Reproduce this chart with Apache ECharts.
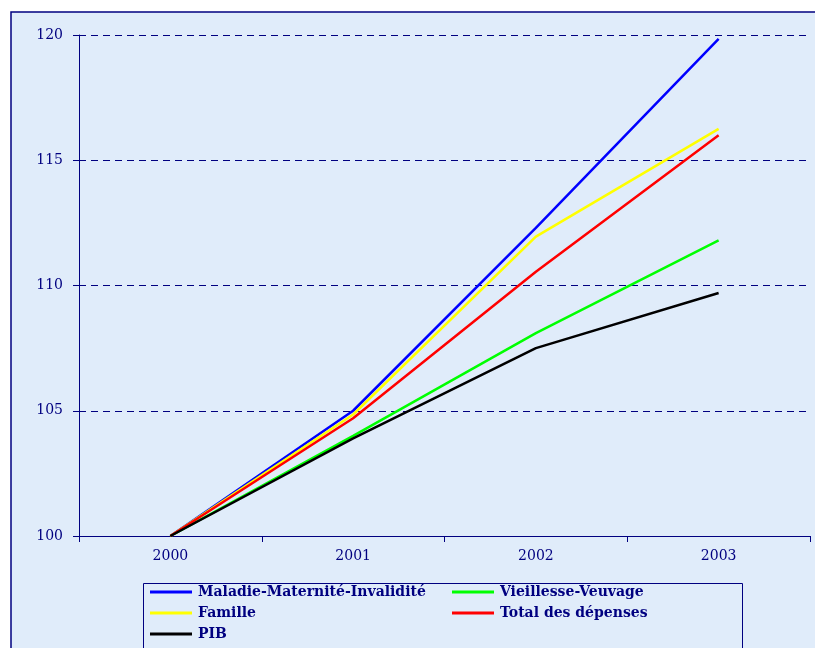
<!DOCTYPE html>
<html>
<head>
<meta charset="utf-8">
<script src="https://cdn.jsdelivr.net/npm/echarts@6/dist/echarts.min.js"></script>
<style>
  html, body { margin: 0; padding: 0; background: #ffffff; }
  #chart { width: 815px; height: 648px; }
</style>
</head>
<body>
<div id="chart"></div>
<script>
// Index of expenditure growth, base 100 in 2000
const years = ['2000', '2001', '2002', '2003'];
const yTicks = [100, 105, 110, 115, 120];

const seriesNames = [
  'Maladie-Maternité-Invalidité',
  'Vieillesse-Veuvage',
  'Famille',
  'Total des dépenses',
  'PIB'
];
const maladie    = [100, 105.0, 112.3, 119.85];
const vieillesse = [100, 104.0, 108.1, 111.8];
const famille    = [100, 104.85, 111.95, 116.25];
const total      = [100, 104.7, 110.55, 116.0];
const pib        = [100, 103.9, 107.5, 109.7];

const values = [maladie, vieillesse, famille, total, pib];
const colors = ['#0000ff', '#00ff00', '#ffff00', '#ff0000', '#000000'];

const navy = '#000080';
const font = '"DejaVu Serif", "Liberation Serif", serif';

const chart = echarts.init(document.getElementById('chart'), null, { renderer: 'canvas' });

const legendCommon = {
  orient: 'vertical',
  top: 585,
  itemGap: 7,
  itemWidth: 42,
  itemHeight: 3,
  icon: 'rect',
  padding: 0,
  textStyle: { fontFamily: font, fontSize: 14, fontWeight: 'bold', color: navy, padding: [0, 0, 0, 1] },
  selectedMode: false
};

chart.setOption({
  animation: false,
  backgroundColor: '#ffffff',
  graphic: [
    {
      type: 'rect',
      z: -10,
      shape: { x: 11, y: 12, width: 840, height: 680 },
      style: { fill: '#e0ecfa', stroke: navy, lineWidth: 1.5 }
    },
    {
      type: 'rect',
      z: -5,
      shape: { x: 143.5, y: 583.5, width: 599, height: 90 },
      style: { fill: 'none', stroke: navy, lineWidth: 1 }
    }
  ],
  grid: { left: 79, top: 35, right: 5, bottom: 112, containLabel: false },
  legend: [
    Object.assign({ left: 150, data: [seriesNames[0], seriesNames[2], seriesNames[4]] }, legendCommon),
    Object.assign({ left: 452, data: [seriesNames[1], seriesNames[3]] }, legendCommon)
  ],
  xAxis: {
    type: 'category',
    data: years,
    boundaryGap: true,
    axisLine: { lineStyle: { color: navy, width: 1 } },
    axisTick: { show: true, length: 6, lineStyle: { color: navy } },
    axisLabel: { fontFamily: font, fontSize: 14, color: navy, margin: 13 },
    splitLine: { show: false }
  },
  yAxis: {
    type: 'value',
    min: yTicks[0],
    max: yTicks[yTicks.length - 1],
    interval: 5,
    axisLine: { show: true, lineStyle: { color: navy, width: 1 } },
    axisTick: { show: true, length: 6, lineStyle: { color: navy } },
    axisLabel: { fontFamily: font, fontSize: 14, color: navy, margin: 16 },
    splitLine: { show: true, lineStyle: { color: navy, type: [7, 5], width: 1 } }
  },
  series: seriesNames.map((name, i) => ({
    name: name,
    type: 'line',
    data: values[i],
    color: colors[i],
    symbol: 'none',
    showSymbol: false,
    lineStyle: { color: colors[i], width: 2.5 }
  }))
});
</script>
</body>
</html>
